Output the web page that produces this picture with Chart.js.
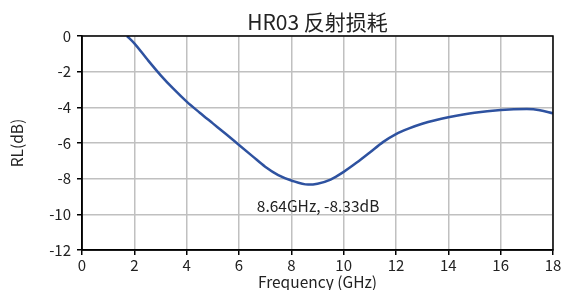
<!DOCTYPE html>
<html>
<head>
<meta charset="utf-8">
<script src="https://cdn.jsdelivr.net/npm/chart.js@4"></script>
<style>
  html, body { margin: 0; padding: 0; background: #fff; }
  #wrap { width: 561px; height: 290px; }
</style>
</head>
<body>
<div id="wrap"><canvas id="rlChart"></canvas></div>
<script>
const freq = [1.72, 2, 2.5, 3, 3.5, 4, 4.5, 5, 5.5, 6, 6.5, 7, 7.5, 8, 8.64, 9, 9.5, 10, 10.5, 11, 11.5, 12, 12.5, 13, 13.5, 14, 15, 16, 17, 17.5, 18];
const rl = [0, -0.41, -1.32, -2.19, -2.97, -3.68, -4.3, -4.9, -5.5, -6.11, -6.72, -7.33, -7.8, -8.1, -8.33, -8.28, -8.05, -7.62, -7.1, -6.53, -5.95, -5.5, -5.18, -4.92, -4.72, -4.56, -4.3, -4.15, -4.1, -4.16, -4.34];
const xTicks = [0, 2, 4, 6, 8, 10, 12, 14, 16, 18];
const yTicks = [0, -2, -4, -6, -8, -10, -12];
const titleText = "HR03 反射损耗";
const minLabel = "8.64GHz, -8.33dB";
const minPoint = { x: 8.64, y: -8.33 };

const FONT = '"Noto Sans CJK SC", "Noto Sans", sans-serif';

const extras = {
    id: "extras",
    afterDraw(chart) {
        const ctx = chart.ctx;
        const a = chart.chartArea;
        const xs = chart.scales.x, ys = chart.scales.y;
        ctx.save();
        // frame round the plot
        ctx.strokeStyle = "#000";
        ctx.lineWidth = 1.5;
        ctx.strokeRect(a.left, a.top, a.right - a.left, a.bottom - a.top);
        // title
        ctx.fillStyle = "#222";
        ctx.font = "21px " + FONT;
        ctx.textAlign = "center";
        ctx.textBaseline = "alphabetic";
        ctx.fillText(titleText, (a.left + a.right) / 2, a.top - 6);
        // minimum label
        ctx.font = "15.5px " + FONT;
        ctx.textBaseline = "middle";
        ctx.fillText(minLabel, xs.getPixelForValue(minPoint.x) + 10, ys.getPixelForValue(minPoint.y) + 22);
        ctx.restore();
    }
};

new Chart(document.getElementById("rlChart"), {
    type: "line",
    data: {
        datasets: [{
            data: freq.map((f, i) => ({ x: f, y: rl[i] })),
            borderColor: "#2e52a0",
            borderWidth: 2.5,
            pointRadius: 0,
            cubicInterpolationMode: "monotone",
            fill: false
        }]
    },
    options: {
        responsive: true,
        maintainAspectRatio: false,
        animation: false,
        layout: { padding: { top: 36, right: 8, left: 0, bottom: 0 } },
        plugins: { legend: { display: false }, tooltip: { enabled: false } },
        scales: {
            x: {
                type: "linear",
                min: 0, max: 18,
                afterBuildTicks: s => { s.ticks = xTicks.map(v => ({ value: v })); },
                afterFit: s => { s.height = 40; s.paddingRight = 0; s.paddingLeft = 0; },
                grid: { color: "#c0c0c0", lineWidth: 1.5, tickColor: "#000", tickLength: 5, tickWidth: 1.5 },
                border: { color: "#000", width: 1.5 },
                ticks: { color: "#222", font: { family: FONT, size: 15 }, padding: 1, maxRotation: 0 },
                title: { display: true, text: "Frequency (GHz)", color: "#222", font: { family: FONT, size: 15.5 }, padding: { top: -4, bottom: -1 } }
            },
            y: {
                min: -12, max: 0,
                afterBuildTicks: s => { s.ticks = yTicks.map(v => ({ value: v })); },
                afterFit: s => { s.width = 82; s.paddingTop = 0; s.paddingBottom = 0; },
                grid: { color: "#c0c0c0", lineWidth: 1.5, tickColor: "#000", tickLength: 5, tickWidth: 1.5 },
                border: { color: "#000", width: 1.5 },
                ticks: { color: "#222", font: { family: FONT, size: 15 }, padding: 6 },
                title: { display: true, text: "RL(dB)", color: "#222", font: { family: FONT, size: 15.5 }, padding: { top: 8, bottom: 0 } }
            }
        }
    },
    plugins: [extras]
});
</script>
</body>
</html>
